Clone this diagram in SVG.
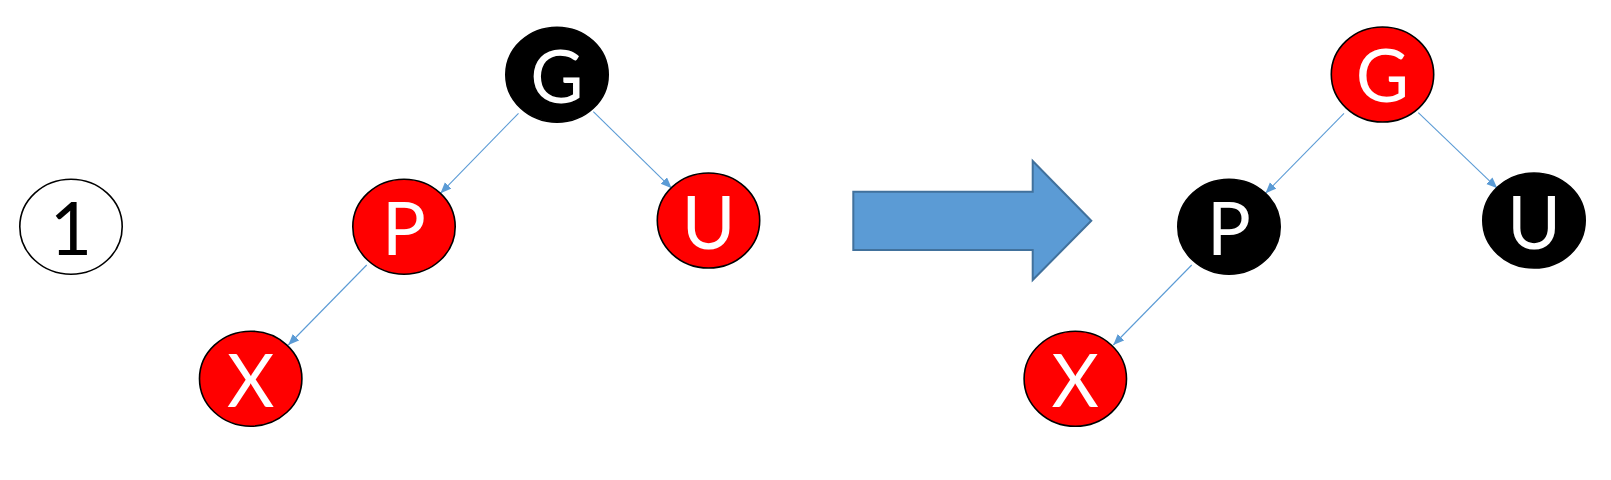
<svg xmlns="http://www.w3.org/2000/svg" width="1611" height="480" viewBox="0 0 1611 480">
  <style>
    .node { stroke: #000000; stroke-width: 1.6; }
    .red { fill: #FF0000; }
    .black { fill: #000000; }
    .white { fill: #FFFFFF; }
    .lbl { font-family: "Lato", "Open Sans", "Liberation Sans", sans-serif; font-size: 73px; text-anchor: middle; fill: #FFFFFF; }
    .lbl.dark { fill: #000000; }
    .edge { stroke: #5B9BD5; stroke-width: 1.1; fill: none; marker-end: url(#ah); }
    .bigarrow { fill: #5B9BD5; stroke: #41719C; stroke-width: 2; stroke-linejoin: miter; }
  </style>
  <defs>
    <marker id="ah" markerUnits="userSpaceOnUse" markerWidth="12" markerHeight="10" refX="11" refY="4.5" orient="auto" viewBox="0 0 12 10">
      <path d="M0,0 L11,4.5 L0,9 z" fill="#5B9BD5"/>
    </marker>
  </defs>
  <rect width="1611" height="480" fill="#FFFFFF"/>

  <g id="connectors">
    <line class="edge" x1="518.5" y1="113.3" x2="440.5" y2="193.3"/>
    <line class="edge" x1="593.3" y1="111.7" x2="671.7" y2="188.3"/>
    <line class="edge" x1="366.7" y1="265" x2="288.3" y2="345"/>
    <line class="edge" x1="1344" y1="113.3" x2="1265.5" y2="193.3"/>
    <line class="edge" x1="1418.3" y1="112.7" x2="1497.3" y2="188.3"/>
    <line class="edge" x1="1191.7" y1="265" x2="1113.3" y2="345"/>
  </g>

  <g id="step-number">
    <ellipse class="node white" cx="71" cy="226.7" rx="51.2" ry="47.5"/>
    <text class="lbl dark" x="71" y="254.5">1</text>
  </g>

  <g id="left-G">
    <ellipse class="node black" cx="557" cy="74.7" rx="51.2" ry="47.5"/>
    <text class="lbl" x="557" y="102.5">G</text>
  </g>
  <g id="left-P">
    <ellipse class="node red" cx="404" cy="226.7" rx="51.2" ry="47.5"/>
    <text class="lbl" x="404" y="254.8">P</text>
  </g>
  <g id="left-U">
    <ellipse class="node red" cx="708.5" cy="220.5" rx="51.2" ry="47.5"/>
    <text class="lbl" x="708.5" y="248.5">U</text>
  </g>
  <g id="left-X">
    <ellipse class="node red" cx="250.7" cy="378.7" rx="51.2" ry="47.5"/>
    <text class="lbl" x="250.7" y="406.7">X</text>
  </g>

  <g id="transform-arrow">
    <polygon class="bigarrow" points="853.3,191.7 1032.7,191.7 1032.7,161 1091.3,220.8 1032.7,280 1032.7,250 853.3,250"/>
  </g>

  <g id="right-G">
    <ellipse class="node red" cx="1382.5" cy="74.5" rx="51.2" ry="47.5"/>
    <text class="lbl" x="1382.5" y="102.3">G</text>
  </g>
  <g id="right-P">
    <ellipse class="node black" cx="1229" cy="226.7" rx="51.2" ry="47.5"/>
    <text class="lbl" x="1229" y="254.8">P</text>
  </g>
  <g id="right-U">
    <ellipse class="node black" cx="1534" cy="220.5" rx="51.2" ry="47.5"/>
    <text class="lbl" x="1534" y="248.5">U</text>
  </g>
  <g id="right-X">
    <ellipse class="node red" cx="1075.3" cy="378.8" rx="51.2" ry="47.5"/>
    <text class="lbl" x="1075.3" y="406.8">X</text>
  </g>
</svg>
